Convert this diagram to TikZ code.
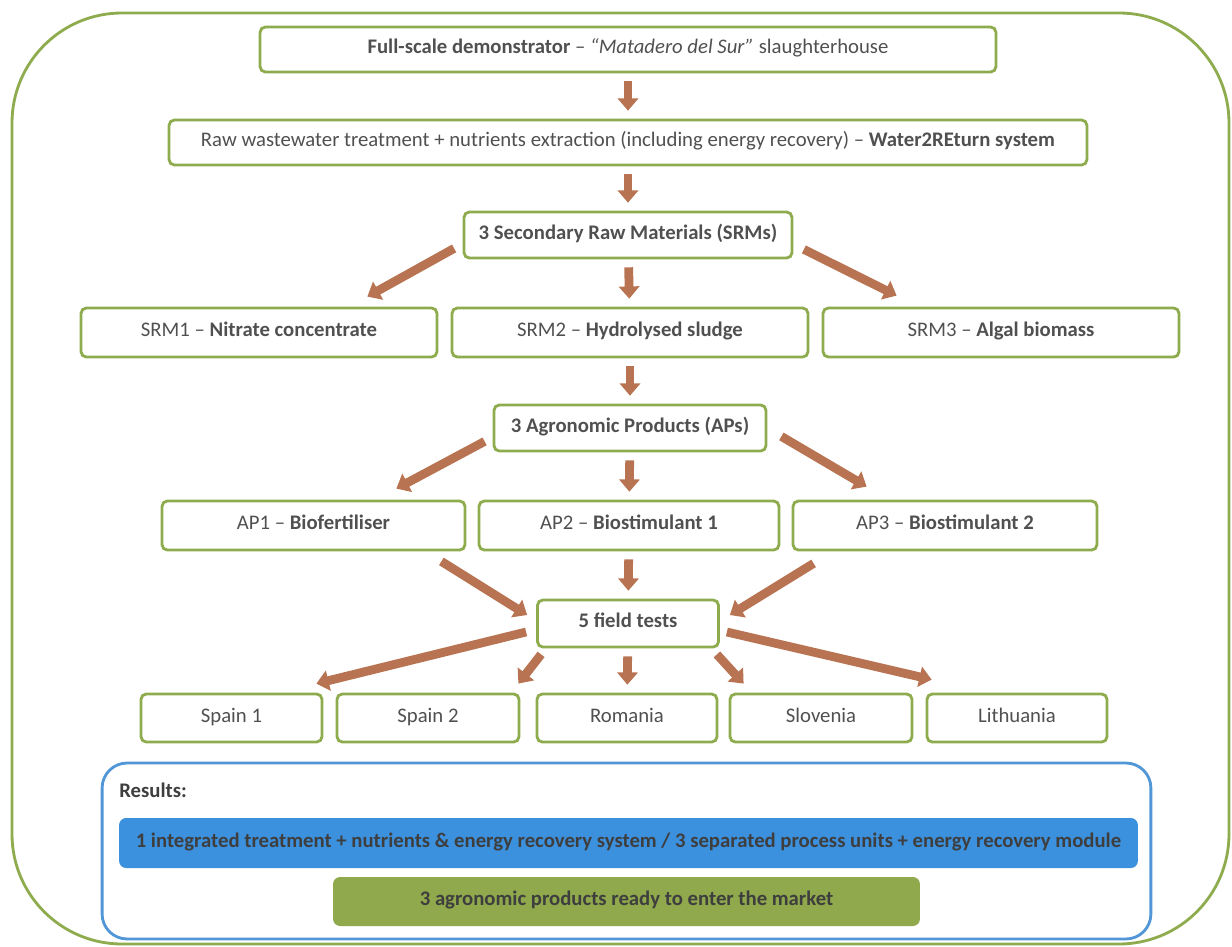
\documentclass[tikz,border=0pt]{standalone}
\usepackage{fontspec}
\setmainfont{Carlito}
\usetikzlibrary{arrows.meta}

\definecolor{boxgreen}{RGB}{142,172,78}
\definecolor{arrowbrown}{RGB}{184,116,82}
\definecolor{resblue}{RGB}{81,150,214}
\definecolor{barblue}{RGB}{60,145,222}
\definecolor{bargreen}{RGB}{143,169,76}
\definecolor{txtgray}{RGB}{80,80,80}
\definecolor{txtdark}{RGB}{62,62,62}

\begin{document}
\begin{tikzpicture}[
    x=0.02cm, y=-0.02cm,
    font=\fontsize{11.8}{14}\selectfont,
    box/.style={rectangle, rounded corners=3pt, draw=boxgreen, line width=1.6pt, text=txtgray, align=center, text height=0.72em, text depth=0.22em, minimum height=0.94cm},
    arrow/.style={arrowbrown, line width=5pt, -{Triangle[width=11.5pt, length=7pt]}},
    gap/.style={shorten <=4.5pt, shorten >=4.5pt},
    bar/.style={rectangle, rounded corners=4pt, text=txtdark, font=\fontsize{11.8}{14}\selectfont\bfseries, text height=0.72em, text depth=0.22em, minimum height=0.98cm},
    % Style for the outer frame
    frame/.style={draw=boxgreen, line width=1.6pt, rounded corners=2.2cm}
]
\useasboundingbox (0,0) rectangle (1232,947);

% Outer frame
\draw [frame] (12,13) rectangle (1229,944);

% STAGE 1: Demonstrator and treatment
\node (demo) [box, minimum width=14.72cm, minimum height=0.9cm] at (628,49.5) {\textbf{Full-scale demonstrator} – \textit{“Matadero del Sur”} slaughterhouse};
\node (treat) [box, minimum width=18.36cm, minimum height=0.9cm] at (628,142.5) {Raw wastewater treatment + nutrients extraction (including energy recovery) – \textbf{Water2REturn system}};

% STAGE 2: Secondary raw materials
\node (srms) [box, minimum width=6.56cm, minimum height=0.92cm] at (628,235) {\textbf{3 Secondary Raw Materials (SRMs)}};
\node (srm1) [box, minimum width=7.12cm, minimum height=0.98cm] at (259,332.5) {SRM1 – \textbf{Nitrate concentrate}};
\node (srm2) [box, minimum width=7.12cm, minimum height=0.98cm] at (630,332.5) {SRM2 – \textbf{Hydrolysed sludge}};
\node (srm3) [box, minimum width=7.12cm, minimum height=0.98cm] at (1001,332.5) {SRM3 – \textbf{Algal biomass}};

% STAGE 3: Agronomic products
\node (aps) [box, minimum width=5.44cm, minimum height=0.92cm] at (630,428) {\textbf{3 Agronomic Products (APs)}};
\node (ap1) [box, minimum width=6.06cm, minimum height=0.98cm] at (313.5,525.5) {AP1 – \textbf{Biofertiliser}};
\node (ap2) [box, minimum width=6.0cm, minimum height=0.98cm] at (629,525.5) {AP2 – \textbf{Biostimulant 1}};
\node (ap3) [box, minimum width=6.08cm, minimum height=0.98cm] at (945,525.5) {AP3 – \textbf{Biostimulant 2}};

% STAGE 4: Field tests
\node (field) [box, minimum width=3.62cm] at (628,623.5) {\textbf{5 field tests}};
\node (spain1) [box, minimum width=3.62cm, minimum height=0.96cm] at (231.5,718) {Spain 1};
\node (spain2) [box, minimum width=3.64cm, minimum height=0.96cm] at (428,718) {Spain 2};
\node (romania) [box, minimum width=3.6cm, minimum height=0.96cm] at (627,718) {Romania};
\node (slovenia) [box, minimum width=3.64cm, minimum height=0.96cm] at (821,718) {Slovenia};
\node (lithuania) [box, minimum width=3.6cm, minimum height=0.96cm] at (1017,718) {Lithuania};

% Results
\node (results) [draw=resblue, line width=1.6pt, rounded corners=0.5cm, minimum width=20.98cm, minimum height=3.52cm] at (626.5,851) {};
\node (reslabel) [anchor=west, inner sep=0pt, text=txtdark] at (119,790) {\textbf{Results:}};
\node (system) [bar, fill=barblue, minimum width=20.38cm, minimum height=1.0cm] at (628.5,843) {1 integrated treatment + nutrients \& energy recovery system / 3 separated process units + energy recovery module};
\node (market) [bar, fill=bargreen, minimum width=11.74cm] at (626.5,901.5) {3 agronomic products ready to enter the market};

% Arrows
\draw [arrow, gap] (demo) -- (treat);
\draw [arrow, gap] (treat) -- (srms);

\draw [arrow] ([shift={(-8.5,-11)}]srms.south west) -- ([shift={(-71,-10)}]srm1.north east);
\draw [arrow, gap] (srms) -- (srm2);
\draw [arrow] ([shift={(10.5,-10)}]srms.south east) -- ([shift={(75,-11)}]srm3.north west);

\draw [arrow, gap] (srm2) -- (aps);

\draw [arrow] ([shift={(-8,-11)}]aps.south west) -- ([shift={(-70,-11)}]ap1.north east);
\draw [arrow, gap] (aps) -- (ap2);
\draw [arrow] ([shift={(14,-16)}]aps.south east) -- ([shift={(75,-13)}]ap3.north west);

\draw [arrow] ([shift={(-25,10)}]ap1.south east) -- ([shift={(-9,-8.5)}]field.west);
\draw [arrow, gap] (ap2) -- (field);
\draw [arrow] ([shift={(22,12)}]ap3.south west) -- ([shift={(10,-8.5)}]field.east);

\draw [arrow] ([shift={(-10,8.5)}]field.west) -- ([shift={(-7,-9)}]spain1.north east);
\draw [arrow] ([shift={(5,6)}]field.south west) -- ([shift={(-2,-9)}]spain2.north east);
\draw [arrow, gap] (field) -- (romania);
\draw [arrow] ([shift={(-3,6)}]field.south east) -- ([shift={(15,-9)}]slovenia.north west);
\draw [arrow] ([shift={(7,8.5)}]field.east) -- ([shift={(6,-13)}]lithuania.north west);

\end{tikzpicture}
\end{document}
